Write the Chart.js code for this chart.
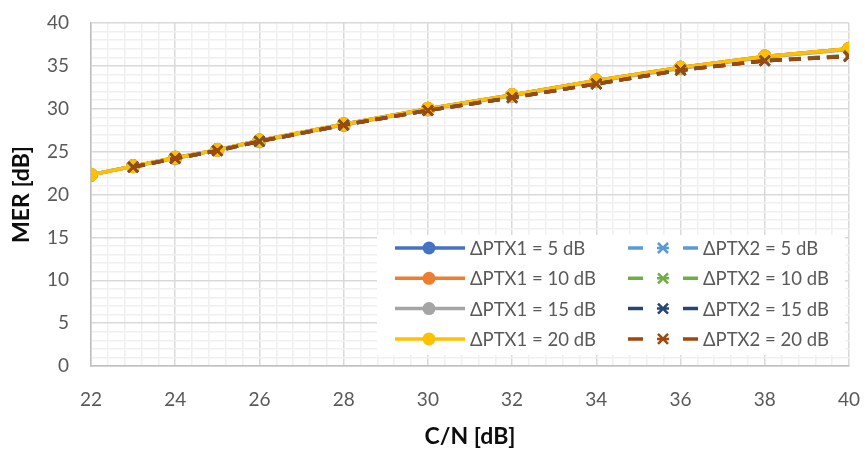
<!DOCTYPE html>
<html>
<head>
<meta charset="utf-8">
<script src="https://cdn.jsdelivr.net/npm/chart.js@4"></script>
<style>
  html, body { margin: 0; padding: 0; background: #fff; }
  #wrap { width: 865px; height: 450px; }
</style>
</head>
<body>
<div id="wrap"><canvas id="myChart" width="865" height="450"></canvas></div>
<script>
// Données
const cn = [22, 23, 24, 25, 26, 28, 30, 32, 34, 36, 38, 40];

const ptx1_5  = [22.3, 23.3, 24.3, 25.2, 26.3, 28.2, 30.0, 31.6, 33.3, 34.8, 36.1, 37.0];
const ptx1_10 = [22.3, 23.3, 24.3, 25.2, 26.3, 28.2, 30.0, 31.6, 33.3, 34.8, 36.1, 37.0];
const ptx1_15 = [22.3, 23.3, 24.2, 25.2, 26.2, 28.1, 29.9, 31.5, 33.2, 34.7, 36.0, 36.9];
const ptx1_20 = [22.3, 23.3, 24.3, 25.2, 26.3, 28.2, 30.0, 31.6, 33.3, 34.8, 36.1, 37.0];

const ptx2_5  = [null, 23.2, 24.2, 25.1, 26.2, 28.1, 29.8, 31.3, 32.9, 34.5, 35.6, 36.2];
const ptx2_10 = [null, 23.2, 24.2, 25.1, 26.2, 28.1, 29.8, 31.3, 32.9, 34.5, 35.6, 36.2];
const ptx2_15 = [null, 23.2, 24.2, 25.1, 26.2, 28.1, 29.8, 31.3, 32.9, 34.5, 35.6, 36.1];
const ptx2_20 = [null, 23.2, 24.2, 25.1, 26.2, 28.1, 29.8, 31.3, 32.9, 34.5, 35.6, 36.1];

const seriesNames = [
    'ΔPTX1 = 5 dB', 'ΔPTX1 = 10 dB', 'ΔPTX1 = 15 dB', 'ΔPTX1 = 20 dB',
    'ΔPTX2 = 5 dB', 'ΔPTX2 = 10 dB', 'ΔPTX2 = 15 dB', 'ΔPTX2 = 20 dB'
];
const seriesValues = [ptx1_5, ptx1_10, ptx1_15, ptx1_20, ptx2_5, ptx2_10, ptx2_15, ptx2_20];
const seriesColors = ['#4472C4', '#ED7D31', '#A5A5A5', '#FFC000', '#5B9BD5', '#70AD47', '#264478', '#9E480E'];

const FONT = 'Lato, "Open Sans", sans-serif';
const TICK_COLOR = '#595959';

// Construire les jeux de données
const datasets = seriesValues.map((vals, i) => {
    const dashed = i >= 4;
    return {
        label: seriesNames[i],
        data: cn.map((x, k) => ({ x: x, y: vals[k] })),
        borderColor: seriesColors[i],
        backgroundColor: seriesColors[i],
        borderWidth: 3.5,
        borderDash: dashed ? [12, 7] : [],
        pointStyle: dashed ? 'crossRot' : 'circle',
        pointRadius: dashed ? 7 : 6.5,
        pointBorderWidth: dashed ? 2.5 : 1,
        pointHoverRadius: dashed ? 7 : 6.5,
        tension: 0,
        order: 8 - i
    };
});

function isMajor(v, step) {
    const r = v / step;
    return Math.abs(r - Math.round(r)) < 1e-6;
}

// Légende dessinée dans la zone du graphique, en deux colonnes
const boxLegend = {
    id: 'boxLegend',
    afterDatasetsDraw(chart) {
        const ctx = chart.ctx;
        const left = 377, top = 235, right = 845, bottom = 355;
        ctx.save();
        ctx.fillStyle = '#ffffff';
        ctx.fillRect(left, top, right - left, bottom - top);
        ctx.font = '18.5px ' + FONT;
        ctx.textBaseline = 'middle';
        ctx.textAlign = 'left';
        chart.data.datasets.forEach((ds, i) => {
            const col = i < 4 ? 0 : 1;
            const row = i % 4;
            const y = 248 + row * 30.3;
            const x0 = col === 0 ? 395 : 628;
            const cx = x0 + 34;
            ctx.strokeStyle = ds.borderColor;
            ctx.fillStyle = ds.borderColor;
            ctx.lineWidth = 3.5;
            ctx.lineCap = 'butt';
            if (col === 0) {
                ctx.beginPath();
                ctx.moveTo(x0, y);
                ctx.lineTo(x0 + 70, y);
                ctx.stroke();
                ctx.beginPath();
                ctx.arc(cx, y, 6.5, 0, Math.PI * 2);
                ctx.fill();
            } else {
                ctx.beginPath();
                ctx.moveTo(x0, y);
                ctx.lineTo(x0 + 15, y);
                ctx.moveTo(x0 + 55, y);
                ctx.lineTo(x0 + 70, y);
                ctx.stroke();
                ctx.lineWidth = 2.5;
                ctx.beginPath();
                const d = 5;
                ctx.moveTo(cx + 1 - d, y - d);
                ctx.lineTo(cx + 1 + d, y + d);
                ctx.moveTo(cx + 1 - d, y + d);
                ctx.lineTo(cx + 1 + d, y - d);
                ctx.moveTo(cx - 5, y);
                ctx.lineTo(cx + 7, y);
                ctx.stroke();
            }
            ctx.fillStyle = TICK_COLOR;
            ctx.fillText(ds.label, x0 + 75, y + 1);
        });
        ctx.restore();
    }
};

let ctx = document.getElementById('myChart').getContext('2d');
let myChart = new Chart(ctx, {
    type: 'line',
    data: { datasets: datasets },
    plugins: [boxLegend],
    options: {
        responsive: false,
        animation: false,
        layout: { padding: { left: 0, right: 16, top: 23, bottom: 0 } },
        plugins: {
            legend: { display: false },
            tooltip: { enabled: false }
        },
        scales: {
            x: {
                type: 'linear',
                min: 22,
                max: 40,
                afterFit: s => {
                    s.height = 84;
                    s.paddingLeft = 0;
                    s.paddingRight = 0;
                },
                afterBuildTicks: s => {
                    // grille secondaire tous les 0,4
                    const t = [];
                    for (let k = 0; k <= 45; k++) t.push({ value: +(22 + k * 0.4).toFixed(2) });
                    s.ticks = t;
                },
                ticks: {
                    autoSkip: false,
                    maxRotation: 0,
                    padding: 22,
                    color: TICK_COLOR,
                    font: { family: FONT, size: 19 },
                    callback: v => isMajor(v, 2) ? String(Math.round(v)) : ''
                },
                grid: {
                    drawTicks: false,
                    lineWidth: 1.5,
                    color: c => isMajor(c.tick.value, 2) ? '#d9d9d9' : '#f0f0f0'
                },
                border: { color: '#bfbfbf', width: 1.5 },
                title: {
                    display: true,
                    text: 'C/N [dB]',
                    color: '#0d0d0d',
                    font: { family: FONT, size: 23, weight: 'bold' },
                    padding: { top: 4, bottom: 0 }
                }
            },
            y: {
                min: 0,
                max: 40,
                afterFit: s => {
                    s.width = 91;
                    s.paddingTop = 0;
                    s.paddingBottom = 0;
                },
                ticks: {
                    stepSize: 1,
                    autoSkip: false,
                    padding: 22,
                    color: TICK_COLOR,
                    font: { family: FONT, size: 19 },
                    callback: v => isMajor(v, 5) ? String(v) : ''
                },
                grid: {
                    drawTicks: false,
                    lineWidth: 1.5,
                    color: c => isMajor(c.tick.value, 5) ? '#d9d9d9' : '#f0f0f0'
                },
                border: { color: '#bfbfbf', width: 1.5 },
                title: {
                    display: true,
                    text: 'MER [dB]',
                    color: '#0d0d0d',
                    font: { family: FONT, size: 23, weight: 'bold' },
                    padding: { top: 8, bottom: 0 }
                }
            }
        }
    }
});
</script>
</body>
</html>
